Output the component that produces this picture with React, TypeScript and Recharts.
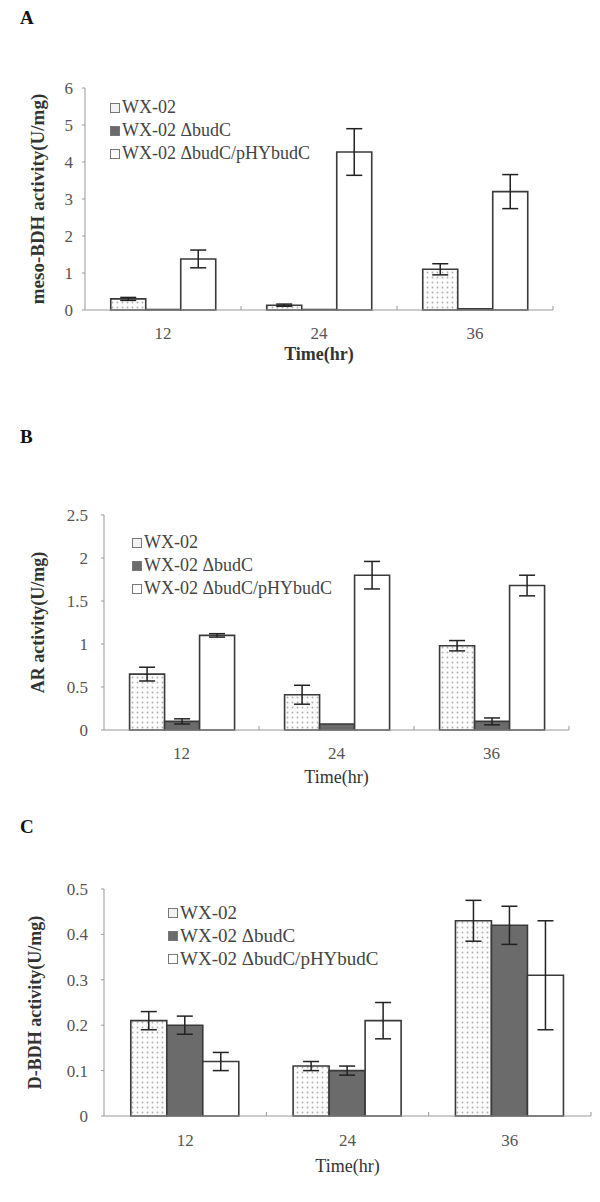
import { BarChart, Bar, XAxis, YAxis, ErrorBar, Legend, Label } from "recharts";

const SERIF = "'Liberation Serif', 'Times New Roman', serif";

const TIMES = ["12", "24", "36"];
const SERIES_NAMES = ["WX-02", "WX-02 \u0394budC", "WX-02 \u0394budC/pHYbudC"];

// A: meso-BDH activity
const MESO_WT = [0.3, 0.13, 1.1];
const MESO_WT_ERR = [0.04, 0.03, 0.15];
const MESO_DEL = [0.01, 0.01, 0.03];
const MESO_DEL_ERR = [null, null, null];
const MESO_COMP = [1.38, 4.27, 3.2];
const MESO_COMP_ERR = [0.24, 0.63, 0.46];
const MESO_TICKS = [0, 1, 2, 3, 4, 5, 6];

// B: AR activity
const AR_WT = [0.65, 0.41, 0.98];
const AR_WT_ERR = [0.08, 0.11, 0.06];
const AR_DEL = [0.1, 0.07, 0.1];
const AR_DEL_ERR = [0.03, null, 0.04];
const AR_COMP = [1.1, 1.8, 1.68];
const AR_COMP_ERR = [0.02, 0.16, 0.12];
const AR_TICKS = [0, 0.5, 1, 1.5, 2, 2.5];

// C: D-BDH activity
const DBDH_WT = [0.21, 0.11, 0.43];
const DBDH_WT_ERR = [0.02, 0.01, 0.045];
const DBDH_DEL = [0.2, 0.1, 0.42];
const DBDH_DEL_ERR = [0.02, 0.01, 0.042];
const DBDH_COMP = [0.12, 0.21, 0.31];
const DBDH_COMP_ERR = [0.02, 0.04, 0.12];
const DBDH_TICKS = [0, 0.1, 0.2, 0.3, 0.4, 0.5];

const buildRows = (
  wt: number[], wtErr: (number | null)[],
  del: number[], delErr: (number | null)[],
  comp: number[], compErr: (number | null)[]
) =>
  TIMES.map((t, i) => ({
    time: t,
    wt: wt[i], wtErr: wtErr[i],
    del: del[i], delErr: delErr[i],
    comp: comp[i], compErr: compErr[i],
  }));

// tick label plus a small mark on the boundary between categories
function CategoryTick(props: any) {
  const { x, y, payload, dy, width, visibleTicksCount } = props;
  let half = payload && payload.offset ? payload.offset : 0;
  if (!half && width && visibleTicksCount) half = width / visibleTicksCount / 2;
  return (
    <g>
      {half > 0 && (
        <line x1={x + half} x2={x + half} y1={y} y2={y - 4} stroke="#999" />
      )}
      <text x={x} y={y + dy} textAnchor="middle" fill="#555" fontSize={17} fontFamily={SERIF}>
        {payload.value}
      </text>
    </g>
  );
}

const SWATCH = ["#f2f2f2", "#6b6b6b", "#ffffff"];

function LegendList({ fontSize, lineHeight }: { fontSize: number; lineHeight: number }) {
  return (
    <div style={{ fontFamily: SERIF, fontSize, color: "#444", lineHeight: `${lineHeight}px` }}>
      {SERIES_NAMES.map((n, i) => (
        <div key={n} style={{ display: "flex", alignItems: "center", whiteSpace: "nowrap" }}>
          <span
            style={{
              display: "inline-block",
              width: 8,
              height: 8,
              border: "1px solid #777",
              background: SWATCH[i],
              marginRight: 2,
            }}
          />
          {n}
        </div>
      ))}
    </div>
  );
}

type PanelProps = {
  id: string;
  top: number;
  height: number;
  rows: any[];
  ticks: number[];
  yLabel: string;
  yLabelX: number;
  yLabelFont: number;
  xBold: boolean;
  margin: { top: number; right: number; bottom: number; left: number };
  tickMargin: number;
  legendLeft: number;
  legendTop: number;
  legendFont: number;
  legendLine: number;
  tickDy: number;
  titleDy: number;
};

function Panel(p: PanelProps) {
  const dotsId = `dots-${p.id}`;
  const max = p.ticks[p.ticks.length - 1];
  return (
    <div style={{ position: "absolute", left: 0, top: p.top }}>
      <BarChart
        width={600}
        height={p.height}
        data={p.rows}
        margin={p.margin}
        barGap={0}
        barCategoryGap="16.5%"
      >
        <defs>
          <pattern id={dotsId} width="5" height="5" patternUnits="userSpaceOnUse">
            <rect width="5" height="5" fill="#fbfbfb" />
            <circle cx="2.5" cy="2.5" r="0.9" fill="#b0b0b0" />
          </pattern>
        </defs>
        <XAxis
          dataKey="time"
          height={50}
          stroke="#999"
          tickSize={0}
          tickMargin={0}
          tickLine={false}
          interval={0}
          tick={<CategoryTick dy={p.tickDy} />}
        >
          <Label
            content={(lp: any) => {
              const vb = lp.viewBox || {};
              return (
                <text
                  x={vb.x + vb.width / 2}
                  y={vb.y + p.titleDy}
                  textAnchor="middle"
                  fontFamily={SERIF}
                  fontSize={18}
                  fontWeight={p.xBold ? "bold" : "normal"}
                  fill="#333"
                >
                  Time(hr)
                </text>
              );
            }}
          />
        </XAxis>
        <YAxis
          width={60}
          domain={[0, max]}
          ticks={p.ticks}
          interval={0}
          stroke="#999"
          tickSize={3}
          tickMargin={p.tickMargin}
          tick={{ fill: "#555", fontSize: 17, fontFamily: SERIF }}
        >
          <Label
            content={(lp: any) => {
              const vb = lp.viewBox || {};
              const cy = vb.y + vb.height / 2;
              return (
                <text
                  x={p.yLabelX}
                  y={cy}
                  transform={`rotate(-90 ${p.yLabelX} ${cy})`}
                  textAnchor="middle"
                  dominantBaseline="central"
                  fontFamily={SERIF}
                  fontSize={p.yLabelFont}
                  fontWeight="bold"
                  fill="#333"
                >
                  {p.yLabel}
                </text>
              );
            }}
          />
        </YAxis>
        <Legend
          layout="vertical"
          verticalAlign="middle"
          align="center"
          wrapperStyle={{ left: p.legendLeft, top: p.legendTop, width: "auto" }}
          content={() => <LegendList fontSize={p.legendFont} lineHeight={p.legendLine} />}
        />
        <Bar dataKey="wt" name={SERIES_NAMES[0]} fill={`url(#${dotsId})`} stroke="#3a3a3a" strokeWidth={1.6} isAnimationActive={false}>
          <ErrorBar dataKey="wtErr" width={8} stroke="#222" strokeWidth={1.5} />
        </Bar>
        <Bar dataKey="del" name={SERIES_NAMES[1]} fill="#6b6b6b" stroke="#3a3a3a" strokeWidth={1.6} isAnimationActive={false}>
          <ErrorBar dataKey="delErr" width={8} stroke="#222" strokeWidth={1.5} />
        </Bar>
        <Bar dataKey="comp" name={SERIES_NAMES[2]} fill="#ffffff" stroke="#3a3a3a" strokeWidth={1.6} isAnimationActive={false}>
          <ErrorBar dataKey="compErr" width={8} stroke="#222" strokeWidth={1.5} />
        </Bar>
      </BarChart>
    </div>
  );
}

const letterStyle = (top: number): React.CSSProperties => ({
  position: "absolute",
  left: 20,
  top,
  fontFamily: SERIF,
  fontWeight: "bold",
  fontSize: 19,
  lineHeight: "19px",
  color: "#111",
});

export default function App() {
  const mesoRows = buildRows(MESO_WT, MESO_WT_ERR, MESO_DEL, MESO_DEL_ERR, MESO_COMP, MESO_COMP_ERR);
  const arRows = buildRows(AR_WT, AR_WT_ERR, AR_DEL, AR_DEL_ERR, AR_COMP, AR_COMP_ERR);
  const dbdhRows = buildRows(DBDH_WT, DBDH_WT_ERR, DBDH_DEL, DBDH_DEL_ERR, DBDH_COMP, DBDH_COMP_ERR);

  return (
    <div style={{ position: "absolute", left: 0, top: 0, width: 600, height: 1202, background: "#fff", overflow: "hidden" }}>
      <div style={letterStyle(8)}>A</div>
      <div style={letterStyle(427)}>B</div>
      <div style={letterStyle(817)}>C</div>

      <Panel
        id="a"
        top={0}
        height={390}
        rows={mesoRows}
        ticks={MESO_TICKS}
        yLabel="meso-BDH activity(U/mg)"
        yLabelX={37}
        yLabelFont={19}
        xBold={true}
        margin={{ top: 88, right: 47, bottom: 30, left: 25 }}
        tickMargin={9}
        legendLeft={110}
        legendTop={96}
        legendFont={18}
        legendLine={23}
        tickDy={29}
        titleDy={50}
      />
      <Panel
        id="b"
        top={400}
        height={390}
        rows={arRows}
        ticks={AR_TICKS}
        yLabel="AR activity(U/mg)"
        yLabelX={38}
        yLabelFont={18}
        xBold={false}
        margin={{ top: 115, right: 31, bottom: 10, left: 44 }}
        tickMargin={13}
        legendLeft={132}
        legendTop={131}
        legendFont={18}
        legendLine={23}
        tickDy={29}
        titleDy={53}
      />
      <Panel
        id="c"
        top={790}
        height={412}
        rows={dbdhRows}
        ticks={DBDH_TICKS}
        yLabel="D-BDH activity(U/mg)"
        yLabelX={35}
        yLabelFont={18}
        xBold={false}
        margin={{ top: 99, right: 9, bottom: 36, left: 44 }}
        tickMargin={13}
        legendLeft={168}
        legendTop={111}
        legendFont={19}
        legendLine={23}
        tickDy={30}
        titleDy={56}
      />
    </div>
  );
}
